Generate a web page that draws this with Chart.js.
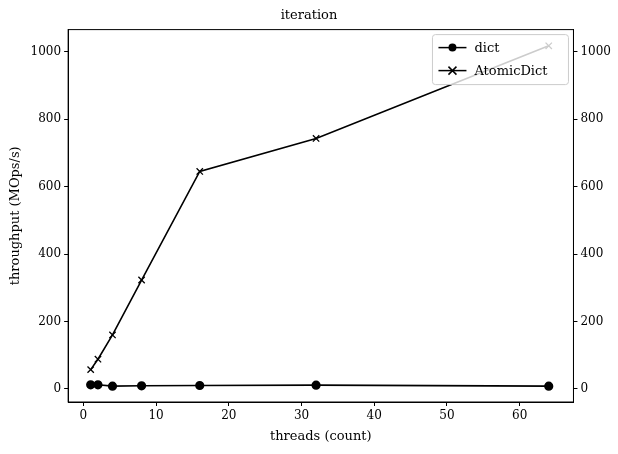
<!DOCTYPE html>
<html>
<head>
<meta charset="utf-8">
<script src="https://cdn.jsdelivr.net/npm/chart.js@4"></script>
<style>
  body { margin: 0; background: #fff; }
  #wrap { width: 618px; height: 454px; }
</style>
</head>
<body>
<div id="wrap"><canvas id="chart"></canvas></div>
<script>
// Data
const threads = [1, 2, 4, 8, 16, 32, 64];
const dictValues = [12, 12, 8, 9, 10, 11, 8];
const atomicValues = [57, 88, 160, 323, 645, 743, 1018];
const xTicks = [0, 10, 20, 30, 40, 50, 60];
const yTicks = [0, 200, 400, 600, 800, 1000];

const FONT = 'DejaVu Serif';
Chart.defaults.font.family = FONT;
Chart.defaults.font.size = 12;
Chart.defaults.color = '#000';

// Frame around plot area plus a legend inside it (matplotlib style)
const framePlugin = {
    id: 'frame',
    afterDatasetsDraw(chart) {
        const { ctx, chartArea: a } = chart;
        ctx.save();
        ctx.strokeStyle = '#000';
        ctx.lineWidth = 1;
        ctx.strokeRect(a.left, a.top, a.right - a.left, a.bottom - a.top);

        // legend box
        const w = 136, h = 50;
        const x = a.right - w - 5, y = a.top + 5;
        ctx.fillStyle = 'rgba(255,255,255,0.8)';
        ctx.strokeStyle = '#ccc';
        ctx.beginPath();
        ctx.roundRect(x, y, w, h, 3);
        ctx.fill();
        ctx.stroke();
        ctx.strokeStyle = '#000';
        ctx.fillStyle = '#000';
        ctx.lineWidth = 1.5;
        ctx.font = '13px ' + FONT;
        ctx.textBaseline = 'middle';
        const rows = [['dict', 'circle'], ['AtomicDict', 'cross']];
        rows.forEach(([label, marker], i) => {
            const cy = y + 13 + i * 23;
            ctx.beginPath();
            ctx.moveTo(x + 6, cy);
            ctx.lineTo(x + 34, cy);
            ctx.stroke();
            if (marker === 'circle') {
                ctx.beginPath();
                ctx.arc(x + 20, cy, 4, 0, Math.PI * 2);
                ctx.fill();
            } else {
                ctx.beginPath();
                ctx.moveTo(x + 16, cy - 4); ctx.lineTo(x + 24, cy + 4);
                ctx.moveTo(x + 24, cy - 4); ctx.lineTo(x + 16, cy + 4);
                ctx.stroke();
            }
            ctx.fillText(label, x + 42, cy + 1);
        });
        ctx.restore();
    }
};

const tickGrid = { drawOnChartArea: false, drawTicks: true, tickLength: 4, color: '#000' };
const plain = v => String(v);

new Chart(document.getElementById('chart'), {
    type: 'line',
    data: {
        datasets: [{
            label: 'dict',
            data: threads.map((t, i) => ({ x: t, y: dictValues[i] })),
            borderColor: '#000',
            backgroundColor: '#000',
            borderWidth: 1.6,
            pointStyle: 'circle',
            pointRadius: 3.8,
            yAxisID: 'y'
        }, {
            label: 'AtomicDict',
            data: threads.map((t, i) => ({ x: t, y: atomicValues[i] })),
            borderColor: '#000',
            backgroundColor: '#000',
            borderWidth: 1.6,
            pointStyle: 'crossRot',
            pointRadius: 4.5,
            pointBorderWidth: 1.3,
            yAxisID: 'y'
        }]
    },
    options: {
        responsive: true,
        maintainAspectRatio: false,
        animation: false,
        layout: { padding: { top: 4, right: 4, left: 4, bottom: 6 } },
        plugins: {
            legend: { display: false },
            tooltip: { enabled: false },
            title: {
                display: true,
                text: 'iteration',
                font: { size: 13, weight: 'normal' },
                padding: { top: 4, bottom: 6 }
            }
        },
        scales: {
            x: {
                type: 'linear',
                min: -2.1, max: 67.4,
                afterBuildTicks: s => { s.ticks = xTicks.map(v => ({ value: v })); },
                grid: tickGrid,
                border: { color: '#000' },
                ticks: { font: { size: 12 }, padding: 3, callback: plain },
                title: { display: true, text: 'threads (count)', font: { size: 13 }, padding: { top: 2 } }
            },
            y: {
                position: 'left',
                min: -39, max: 1066,
                afterBuildTicks: s => { s.ticks = yTicks.map(v => ({ value: v })); },
                grid: tickGrid,
                border: { color: '#000' },
                ticks: { font: { size: 12 }, padding: 3, callback: plain },
                title: { display: true, text: 'throughput (MOps/s)', font: { size: 13 } }
            },
            y2: {
                position: 'right',
                min: -39, max: 1066,
                afterBuildTicks: s => { s.ticks = yTicks.map(v => ({ value: v })); },
                grid: tickGrid,
                border: { color: '#000' },
                ticks: { font: { size: 12 }, padding: 3, callback: plain }
            }
        }
    },
    plugins: [framePlugin]
});
</script>
</body>
</html>
